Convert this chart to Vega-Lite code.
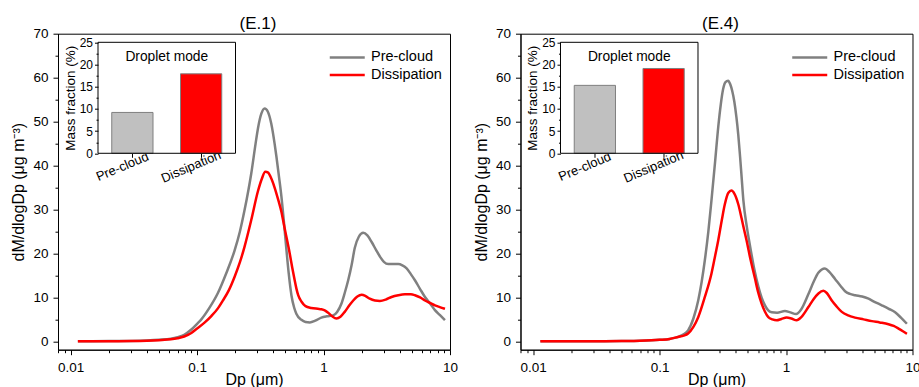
{
  "$schema": "https://vega.github.io/schema/vega-lite/v6.json",
  "padding": {"left": 10, "top": 13.7, "right": 0, "bottom": 0},
  "background": "white",
  "config": {
    "font": "Liberation Sans",
    "view": {"stroke": "#000", "strokeWidth": 1},
    "axis": {
      "grid": false,
      "domainColor": "#000",
      "tickColor": "#000",
      "labelColor": "#000",
      "titleColor": "#000",
      "titleFontWeight": "normal",
      "labelFont": "Liberation Sans",
      "titleFont": "Liberation Sans"
    },
    "title": {"fontWeight": "normal", "color": "#000", "font": "Liberation Sans"}
  },
  "datasets": {
    "e1": [
      {"Dp": 0.0114, "dM": 0, "series": "Pre-cloud"},
      {"Dp": 0.02, "dM": 0.05, "series": "Pre-cloud"},
      {"Dp": 0.03, "dM": 0.1, "series": "Pre-cloud"},
      {"Dp": 0.04, "dM": 0.2, "series": "Pre-cloud"},
      {"Dp": 0.05, "dM": 0.35, "series": "Pre-cloud"},
      {"Dp": 0.062, "dM": 0.6, "series": "Pre-cloud"},
      {"Dp": 0.07, "dM": 0.95, "series": "Pre-cloud"},
      {"Dp": 0.079, "dM": 1.5, "series": "Pre-cloud"},
      {"Dp": 0.09, "dM": 2.7, "series": "Pre-cloud"},
      {"Dp": 0.1, "dM": 4.0, "series": "Pre-cloud"},
      {"Dp": 0.108, "dM": 5.0, "series": "Pre-cloud"},
      {"Dp": 0.125, "dM": 7.6, "series": "Pre-cloud"},
      {"Dp": 0.146, "dM": 11, "series": "Pre-cloud"},
      {"Dp": 0.17, "dM": 15.5, "series": "Pre-cloud"},
      {"Dp": 0.198, "dM": 20.7, "series": "Pre-cloud"},
      {"Dp": 0.218, "dM": 25, "series": "Pre-cloud"},
      {"Dp": 0.237, "dM": 29.8, "series": "Pre-cloud"},
      {"Dp": 0.268, "dM": 38.2, "series": "Pre-cloud"},
      {"Dp": 0.29, "dM": 45, "series": "Pre-cloud"},
      {"Dp": 0.303, "dM": 48.5, "series": "Pre-cloud"},
      {"Dp": 0.322, "dM": 51.8, "series": "Pre-cloud"},
      {"Dp": 0.342, "dM": 53, "series": "Pre-cloud"},
      {"Dp": 0.362, "dM": 52.3, "series": "Pre-cloud"},
      {"Dp": 0.386, "dM": 49.5, "series": "Pre-cloud"},
      {"Dp": 0.41, "dM": 45, "series": "Pre-cloud"},
      {"Dp": 0.424, "dM": 42, "series": "Pre-cloud"},
      {"Dp": 0.444, "dM": 37.5, "series": "Pre-cloud"},
      {"Dp": 0.464, "dM": 33, "series": "Pre-cloud"},
      {"Dp": 0.49, "dM": 26, "series": "Pre-cloud"},
      {"Dp": 0.508, "dM": 21, "series": "Pre-cloud"},
      {"Dp": 0.53, "dM": 15.5, "series": "Pre-cloud"},
      {"Dp": 0.557, "dM": 10.5, "series": "Pre-cloud"},
      {"Dp": 0.585, "dM": 7.7, "series": "Pre-cloud"},
      {"Dp": 0.609, "dM": 6.3, "series": "Pre-cloud"},
      {"Dp": 0.668, "dM": 4.9, "series": "Pre-cloud"},
      {"Dp": 0.72, "dM": 4.4, "series": "Pre-cloud"},
      {"Dp": 0.78, "dM": 4.3, "series": "Pre-cloud"},
      {"Dp": 0.86, "dM": 4.7, "series": "Pre-cloud"},
      {"Dp": 0.96, "dM": 5.4, "series": "Pre-cloud"},
      {"Dp": 1.06, "dM": 5.7, "series": "Pre-cloud"},
      {"Dp": 1.19, "dM": 5.9, "series": "Pre-cloud"},
      {"Dp": 1.28, "dM": 6.7, "series": "Pre-cloud"},
      {"Dp": 1.386, "dM": 8.6, "series": "Pre-cloud"},
      {"Dp": 1.47, "dM": 11, "series": "Pre-cloud"},
      {"Dp": 1.566, "dM": 13.9, "series": "Pre-cloud"},
      {"Dp": 1.67, "dM": 17.5, "series": "Pre-cloud"},
      {"Dp": 1.767, "dM": 21.3, "series": "Pre-cloud"},
      {"Dp": 1.9, "dM": 23.8, "series": "Pre-cloud"},
      {"Dp": 2.06, "dM": 24.7, "series": "Pre-cloud"},
      {"Dp": 2.22, "dM": 24.1, "series": "Pre-cloud"},
      {"Dp": 2.4, "dM": 22.6, "series": "Pre-cloud"},
      {"Dp": 2.6, "dM": 20.8, "series": "Pre-cloud"},
      {"Dp": 2.79, "dM": 19.3, "series": "Pre-cloud"},
      {"Dp": 3.0, "dM": 18.1, "series": "Pre-cloud"},
      {"Dp": 3.25, "dM": 17.6, "series": "Pre-cloud"},
      {"Dp": 3.6, "dM": 17.6, "series": "Pre-cloud"},
      {"Dp": 3.9, "dM": 17.6, "series": "Pre-cloud"},
      {"Dp": 4.2, "dM": 17.3, "series": "Pre-cloud"},
      {"Dp": 4.54, "dM": 16.6, "series": "Pre-cloud"},
      {"Dp": 4.9, "dM": 15.3, "series": "Pre-cloud"},
      {"Dp": 5.28, "dM": 13.9, "series": "Pre-cloud"},
      {"Dp": 5.8, "dM": 11.9, "series": "Pre-cloud"},
      {"Dp": 6.34, "dM": 10.1, "series": "Pre-cloud"},
      {"Dp": 7.0, "dM": 8.5, "series": "Pre-cloud"},
      {"Dp": 7.6, "dM": 7.1, "series": "Pre-cloud"},
      {"Dp": 8.3, "dM": 6.0, "series": "Pre-cloud"},
      {"Dp": 9.12, "dM": 4.8, "series": "Pre-cloud"},
      {"Dp": 0.0114, "dM": 0, "series": "Dissipation"},
      {"Dp": 0.02, "dM": 0.03, "series": "Dissipation"},
      {"Dp": 0.03, "dM": 0.07, "series": "Dissipation"},
      {"Dp": 0.04, "dM": 0.15, "series": "Dissipation"},
      {"Dp": 0.05, "dM": 0.27, "series": "Dissipation"},
      {"Dp": 0.062, "dM": 0.45, "series": "Dissipation"},
      {"Dp": 0.07, "dM": 0.7, "series": "Dissipation"},
      {"Dp": 0.079, "dM": 1.1, "series": "Dissipation"},
      {"Dp": 0.09, "dM": 1.9, "series": "Dissipation"},
      {"Dp": 0.1, "dM": 2.9, "series": "Dissipation"},
      {"Dp": 0.115, "dM": 4.3, "series": "Dissipation"},
      {"Dp": 0.13, "dM": 5.8, "series": "Dissipation"},
      {"Dp": 0.146, "dM": 7.5, "series": "Dissipation"},
      {"Dp": 0.16, "dM": 9.3, "series": "Dissipation"},
      {"Dp": 0.178, "dM": 11.6, "series": "Dissipation"},
      {"Dp": 0.198, "dM": 14.7, "series": "Dissipation"},
      {"Dp": 0.218, "dM": 18, "series": "Dissipation"},
      {"Dp": 0.237, "dM": 21.5, "series": "Dissipation"},
      {"Dp": 0.268, "dM": 27.6, "series": "Dissipation"},
      {"Dp": 0.303, "dM": 34.2, "series": "Dissipation"},
      {"Dp": 0.325, "dM": 37, "series": "Dissipation"},
      {"Dp": 0.346, "dM": 38.6, "series": "Dissipation"},
      {"Dp": 0.365, "dM": 38.4, "series": "Dissipation"},
      {"Dp": 0.38, "dM": 37.5, "series": "Dissipation"},
      {"Dp": 0.41, "dM": 35, "series": "Dissipation"},
      {"Dp": 0.44, "dM": 32, "series": "Dissipation"},
      {"Dp": 0.464, "dM": 29.5, "series": "Dissipation"},
      {"Dp": 0.49, "dM": 26, "series": "Dissipation"},
      {"Dp": 0.515, "dM": 23, "series": "Dissipation"},
      {"Dp": 0.54, "dM": 20, "series": "Dissipation"},
      {"Dp": 0.565, "dM": 16.8, "series": "Dissipation"},
      {"Dp": 0.59, "dM": 14, "series": "Dissipation"},
      {"Dp": 0.61, "dM": 12, "series": "Dissipation"},
      {"Dp": 0.63, "dM": 10.5, "series": "Dissipation"},
      {"Dp": 0.67, "dM": 9.0, "series": "Dissipation"},
      {"Dp": 0.72, "dM": 8.0, "series": "Dissipation"},
      {"Dp": 0.8, "dM": 7.6, "series": "Dissipation"},
      {"Dp": 0.9, "dM": 7.4, "series": "Dissipation"},
      {"Dp": 0.962, "dM": 7.3, "series": "Dissipation"},
      {"Dp": 1.03, "dM": 7.0, "series": "Dissipation"},
      {"Dp": 1.088, "dM": 6.5, "series": "Dissipation"},
      {"Dp": 1.17, "dM": 5.7, "series": "Dissipation"},
      {"Dp": 1.265, "dM": 5.2, "series": "Dissipation"},
      {"Dp": 1.36, "dM": 5.6, "series": "Dissipation"},
      {"Dp": 1.47, "dM": 6.7, "series": "Dissipation"},
      {"Dp": 1.6, "dM": 8.2, "series": "Dissipation"},
      {"Dp": 1.717, "dM": 9.3, "series": "Dissipation"},
      {"Dp": 1.85, "dM": 10.2, "series": "Dissipation"},
      {"Dp": 2.0, "dM": 10.6, "series": "Dissipation"},
      {"Dp": 2.15, "dM": 10.3, "series": "Dissipation"},
      {"Dp": 2.32, "dM": 9.7, "series": "Dissipation"},
      {"Dp": 2.55, "dM": 9.3, "series": "Dissipation"},
      {"Dp": 2.79, "dM": 9.2, "series": "Dissipation"},
      {"Dp": 3.1, "dM": 9.5, "series": "Dissipation"},
      {"Dp": 3.45, "dM": 10.1, "series": "Dissipation"},
      {"Dp": 3.9, "dM": 10.5, "series": "Dissipation"},
      {"Dp": 4.4, "dM": 10.7, "series": "Dissipation"},
      {"Dp": 4.9, "dM": 10.7, "series": "Dissipation"},
      {"Dp": 5.28, "dM": 10.5, "series": "Dissipation"},
      {"Dp": 5.8, "dM": 10.0, "series": "Dissipation"},
      {"Dp": 6.34, "dM": 9.3, "series": "Dissipation"},
      {"Dp": 7.0, "dM": 8.7, "series": "Dissipation"},
      {"Dp": 7.6, "dM": 8.2, "series": "Dissipation"},
      {"Dp": 8.3, "dM": 7.8, "series": "Dissipation"},
      {"Dp": 9.12, "dM": 7.4, "series": "Dissipation"}
    ],
    "e4": [
      {"Dp": 0.0114, "dM": 0, "series": "Pre-cloud"},
      {"Dp": 0.03, "dM": 0.03, "series": "Pre-cloud"},
      {"Dp": 0.05, "dM": 0.08, "series": "Pre-cloud"},
      {"Dp": 0.07, "dM": 0.15, "series": "Pre-cloud"},
      {"Dp": 0.1, "dM": 0.35, "series": "Pre-cloud"},
      {"Dp": 0.12, "dM": 0.55, "series": "Pre-cloud"},
      {"Dp": 0.14, "dM": 1.0, "series": "Pre-cloud"},
      {"Dp": 0.155, "dM": 1.6, "series": "Pre-cloud"},
      {"Dp": 0.168, "dM": 2.5, "series": "Pre-cloud"},
      {"Dp": 0.185, "dM": 5.2, "series": "Pre-cloud"},
      {"Dp": 0.202, "dM": 9.3, "series": "Pre-cloud"},
      {"Dp": 0.215, "dM": 13.5, "series": "Pre-cloud"},
      {"Dp": 0.228, "dM": 18.5, "series": "Pre-cloud"},
      {"Dp": 0.243, "dM": 25, "series": "Pre-cloud"},
      {"Dp": 0.257, "dM": 32, "series": "Pre-cloud"},
      {"Dp": 0.275, "dM": 41, "series": "Pre-cloud"},
      {"Dp": 0.291, "dM": 48.8, "series": "Pre-cloud"},
      {"Dp": 0.305, "dM": 54, "series": "Pre-cloud"},
      {"Dp": 0.318, "dM": 57.4, "series": "Pre-cloud"},
      {"Dp": 0.332, "dM": 59, "series": "Pre-cloud"},
      {"Dp": 0.348, "dM": 59.3, "series": "Pre-cloud"},
      {"Dp": 0.362, "dM": 58.5, "series": "Pre-cloud"},
      {"Dp": 0.375, "dM": 57, "series": "Pre-cloud"},
      {"Dp": 0.39, "dM": 54.5, "series": "Pre-cloud"},
      {"Dp": 0.405, "dM": 51, "series": "Pre-cloud"},
      {"Dp": 0.419, "dM": 47, "series": "Pre-cloud"},
      {"Dp": 0.433, "dM": 42, "series": "Pre-cloud"},
      {"Dp": 0.445, "dM": 37.5, "series": "Pre-cloud"},
      {"Dp": 0.46, "dM": 32, "series": "Pre-cloud"},
      {"Dp": 0.49, "dM": 26, "series": "Pre-cloud"},
      {"Dp": 0.517, "dM": 22, "series": "Pre-cloud"},
      {"Dp": 0.56, "dM": 16.5, "series": "Pre-cloud"},
      {"Dp": 0.603, "dM": 12.5, "series": "Pre-cloud"},
      {"Dp": 0.64, "dM": 10, "series": "Pre-cloud"},
      {"Dp": 0.681, "dM": 8.2, "series": "Pre-cloud"},
      {"Dp": 0.72, "dM": 7.1, "series": "Pre-cloud"},
      {"Dp": 0.77, "dM": 6.6, "series": "Pre-cloud"},
      {"Dp": 0.85, "dM": 6.5, "series": "Pre-cloud"},
      {"Dp": 0.98, "dM": 6.9, "series": "Pre-cloud"},
      {"Dp": 1.08, "dM": 6.6, "series": "Pre-cloud"},
      {"Dp": 1.2, "dM": 6.2, "series": "Pre-cloud"},
      {"Dp": 1.32, "dM": 7.3, "series": "Pre-cloud"},
      {"Dp": 1.5, "dM": 10.7, "series": "Pre-cloud"},
      {"Dp": 1.65, "dM": 13.5, "series": "Pre-cloud"},
      {"Dp": 1.8, "dM": 15.6, "series": "Pre-cloud"},
      {"Dp": 2.03, "dM": 16.6, "series": "Pre-cloud"},
      {"Dp": 2.2, "dM": 15.8, "series": "Pre-cloud"},
      {"Dp": 2.44, "dM": 14.2, "series": "Pre-cloud"},
      {"Dp": 2.7, "dM": 12.6, "series": "Pre-cloud"},
      {"Dp": 2.93, "dM": 11.4, "series": "Pre-cloud"},
      {"Dp": 3.2, "dM": 10.8, "series": "Pre-cloud"},
      {"Dp": 3.52, "dM": 10.5, "series": "Pre-cloud"},
      {"Dp": 4.0, "dM": 10.2, "series": "Pre-cloud"},
      {"Dp": 4.49, "dM": 9.7, "series": "Pre-cloud"},
      {"Dp": 5.0, "dM": 9.0, "series": "Pre-cloud"},
      {"Dp": 5.72, "dM": 8.2, "series": "Pre-cloud"},
      {"Dp": 6.5, "dM": 7.4, "series": "Pre-cloud"},
      {"Dp": 7.29, "dM": 6.6, "series": "Pre-cloud"},
      {"Dp": 8.1, "dM": 5.4, "series": "Pre-cloud"},
      {"Dp": 9.03, "dM": 4.0, "series": "Pre-cloud"},
      {"Dp": 0.0114, "dM": 0, "series": "Dissipation"},
      {"Dp": 0.03, "dM": 0.03, "series": "Dissipation"},
      {"Dp": 0.05, "dM": 0.08, "series": "Dissipation"},
      {"Dp": 0.07, "dM": 0.15, "series": "Dissipation"},
      {"Dp": 0.1, "dM": 0.35, "series": "Dissipation"},
      {"Dp": 0.12, "dM": 0.55, "series": "Dissipation"},
      {"Dp": 0.14, "dM": 1.0, "series": "Dissipation"},
      {"Dp": 0.155, "dM": 1.3, "series": "Dissipation"},
      {"Dp": 0.168, "dM": 1.8, "series": "Dissipation"},
      {"Dp": 0.185, "dM": 3.3, "series": "Dissipation"},
      {"Dp": 0.202, "dM": 5.5, "series": "Dissipation"},
      {"Dp": 0.228, "dM": 10.1, "series": "Dissipation"},
      {"Dp": 0.257, "dM": 15.4, "series": "Dissipation"},
      {"Dp": 0.275, "dM": 19.5, "series": "Dissipation"},
      {"Dp": 0.291, "dM": 23, "series": "Dissipation"},
      {"Dp": 0.31, "dM": 27.5, "series": "Dissipation"},
      {"Dp": 0.328, "dM": 31.2, "series": "Dissipation"},
      {"Dp": 0.35, "dM": 33.8, "series": "Dissipation"},
      {"Dp": 0.37, "dM": 34.3, "series": "Dissipation"},
      {"Dp": 0.39, "dM": 33.6, "series": "Dissipation"},
      {"Dp": 0.419, "dM": 31.2, "series": "Dissipation"},
      {"Dp": 0.445, "dM": 28, "series": "Dissipation"},
      {"Dp": 0.465, "dM": 25.5, "series": "Dissipation"},
      {"Dp": 0.487, "dM": 23, "series": "Dissipation"},
      {"Dp": 0.52, "dM": 19, "series": "Dissipation"},
      {"Dp": 0.567, "dM": 14.4, "series": "Dissipation"},
      {"Dp": 0.6, "dM": 11.3, "series": "Dissipation"},
      {"Dp": 0.641, "dM": 8.6, "series": "Dissipation"},
      {"Dp": 0.68, "dM": 6.8, "series": "Dissipation"},
      {"Dp": 0.724, "dM": 5.5, "series": "Dissipation"},
      {"Dp": 0.78, "dM": 5.0, "series": "Dissipation"},
      {"Dp": 0.842, "dM": 4.8, "series": "Dissipation"},
      {"Dp": 0.92, "dM": 5.1, "series": "Dissipation"},
      {"Dp": 1.011, "dM": 5.4, "series": "Dissipation"},
      {"Dp": 1.1, "dM": 5.2, "series": "Dissipation"},
      {"Dp": 1.213, "dM": 4.8, "series": "Dissipation"},
      {"Dp": 1.32, "dM": 5.5, "series": "Dissipation"},
      {"Dp": 1.502, "dM": 7.8, "series": "Dissipation"},
      {"Dp": 1.65, "dM": 9.6, "series": "Dissipation"},
      {"Dp": 1.803, "dM": 10.9, "series": "Dissipation"},
      {"Dp": 1.975, "dM": 11.5, "series": "Dissipation"},
      {"Dp": 2.1, "dM": 11.0, "series": "Dissipation"},
      {"Dp": 2.3, "dM": 9.3, "series": "Dissipation"},
      {"Dp": 2.5, "dM": 8.0, "series": "Dissipation"},
      {"Dp": 2.76, "dM": 6.7, "series": "Dissipation"},
      {"Dp": 3.1, "dM": 5.9, "series": "Dissipation"},
      {"Dp": 3.52, "dM": 5.4, "series": "Dissipation"},
      {"Dp": 4.1, "dM": 5.0, "series": "Dissipation"},
      {"Dp": 4.77, "dM": 4.6, "series": "Dissipation"},
      {"Dp": 5.5, "dM": 4.3, "series": "Dissipation"},
      {"Dp": 6.46, "dM": 3.9, "series": "Dissipation"},
      {"Dp": 7.1, "dM": 3.5, "series": "Dissipation"},
      {"Dp": 7.76, "dM": 2.9, "series": "Dissipation"},
      {"Dp": 8.4, "dM": 2.3, "series": "Dissipation"},
      {"Dp": 9.03, "dM": 1.7, "series": "Dissipation"}
    ],
    "b1": [
      {"period": "Pre-cloud", "fraction": 9.2},
      {"period": "Dissipation", "fraction": 17.9}
    ],
    "b4": [
      {"period": "Pre-cloud", "fraction": 15.3},
      {"period": "Dissipation", "fraction": 19.1}
    ],
    "inset": [
      {"label": "Droplet mode"}
    ]
  },
  "spacing": 13.5,
  "resolve": {
    "scale": {"color": "independent", "fill": "independent"},
    "legend": {"color": "independent"}
  },
  "hconcat": [
    {
      "title": {"text": "(E.1)", "fontSize": 17, "offset": -6, "dx": 4},
      "width": 392,
      "height": 316,
      "resolve": {
        "scale": {"x": "independent", "y": "independent"},
        "axis": {"x": "independent", "y": "independent"}
      },
      "layer": [
        {
          "data": {"name": "e1"},
          "mark": {"type": "line", "strokeWidth": 2.5, "interpolate": "monotone"},
          "encoding": {
            "x": {
              "field": "Dp", "type": "quantitative",
              "scale": {"type": "log", "domain": [0.00794, 10], "nice": false},
              "axis": {"orient": "bottom", "values": [0.01, 0.1, 1, 10], "format": "~g", "labelFlush": false, "labelOverlap": false, "tickSize": 5, "labelPadding": 6, "labelFontSize": 13.5, "title": "Dp (μm)", "titleFontSize": 16, "titlePadding": -3}
            },
            "y": {
              "field": "dM", "type": "quantitative",
              "scale": {"domain": [-1.9, 70], "nice": false, "zero": false},
              "axis": {"orient": "left", "values": [0, 10, 20, 30, 40, 50, 60, 70], "tickSize": 5, "labelPadding": 5, "labelFontSize": 13.5, "title": "dM/dlogDp (μg m⁻³)", "titleFontSize": 16, "titlePadding": 6}
            },
            "color": {
              "field": "series", "type": "nominal",
              "scale": {"domain": ["Pre-cloud", "Dissipation"], "range": ["#808080", "#ff0000"]},
              "legend": {"orient": "none", "legendX": 282, "legendY": 16.5, "title": null, "symbolType": "M-3.5,0H3.5", "symbolSize": 100, "symbolStrokeWidth": 2.5, "labelFontSize": 14.5, "labelOffset": 16.5, "rowPadding": 2.5, "padding": 0, "labelColor": "#000"}
            }
          }
        },
        {
          "data": {"name": "e1"},
          "mark": {"type": "point", "opacity": 0},
          "encoding": {
            "x": {
              "field": "Dp", "type": "quantitative",
              "scale": {"type": "log", "domain": [0.00794, 10], "nice": false},
              "axis": {"orient": "bottom", "values": [0.008, 0.009, 0.02, 0.03, 0.04, 0.05, 0.06, 0.07, 0.08, 0.09, 0.2, 0.3, 0.4, 0.5, 0.6, 0.7, 0.8, 0.9, 2, 3, 4, 5, 6, 7, 8, 9], "labels": false, "domain": false, "tickSize": 3, "title": null}
            },
            "y": {
              "field": "dM", "type": "quantitative",
              "scale": {"domain": [-1.9, 70], "nice": false, "zero": false},
              "axis": {"orient": "left", "values": [5, 15, 25, 35, 45, 55, 65], "labels": false, "domain": false, "tickSize": 3, "title": null}
            }
          }
        },
        {
          "data": {"name": "b1"},
          "mark": {"type": "bar", "stroke": "#808080", "strokeWidth": 1},
          "encoding": {
            "x": {
              "field": "period", "type": "nominal", "sort": null,
              "scale": {"domain": ["Pre-cloud", "Dissipation"], "range": [40, 177.5], "paddingInner": 0.4, "paddingOuter": 0.2},
              "axis": {"orient": "bottom", "offset": -196.4, "title": null, "domain": false, "labelAngle": -23, "labelAlign": "center", "labelBaseline": "middle", "labelOffset": -10, "labelPadding": 9, "tickSize": 4, "labelFontSize": 13}
            },
            "y": {
              "field": "fraction", "type": "quantitative",
              "scale": {"domain": [0, 25], "range": [119.6, 8.6], "nice": false},
              "axis": {"orient": "left", "offset": -40, "values": [0, 5, 10, 15, 20, 25], "domain": false, "tickSize": 3.5, "labelPadding": 2, "labelFontSize": 12, "title": "Mass fraction (%)", "titleFontSize": 13.5, "titlePadding": 2}
            },
            "fill": {
              "field": "period", "type": "nominal",
              "scale": {"domain": ["Pre-cloud", "Dissipation"], "range": ["#c0c0c0", "#ff0000"]},
              "legend": null
            }
          }
        },
        {
          "data": {"name": "inset"},
          "mark": {"type": "rect", "fill": null, "stroke": "#000", "strokeWidth": 1},
          "encoding": {
            "x": {"datum": 0, "type": "quantitative", "scale": {"domain": [0, 1], "range": [40, 177.5]}, "axis": null},
            "x2": {"datum": 1},
            "y": {"datum": 0, "type": "quantitative", "scale": {"domain": [0, 25], "range": [119.6, 8.6], "nice": false},
              "axis": {"orient": "left", "offset": -40, "values": [2.5, 7.5, 12.5, 17.5, 22.5], "labels": false, "domain": false, "tickSize": 2, "title": null}},
            "y2": {"datum": 25}
          }
        },
        {
          "data": {"name": "inset"},
          "mark": {"type": "text", "fontSize": 13.8, "baseline": "middle", "align": "center", "color": "#000"},
          "encoding": {
            "x": {"datum": 0.5, "type": "quantitative", "scale": {"domain": [0, 1], "range": [40, 177.5]}, "axis": null},
            "y": {"datum": 21.6, "type": "quantitative", "scale": {"domain": [0, 25], "range": [119.6, 8.6], "nice": false}, "axis": null},
            "text": {"field": "label"}
          }
        }
      ]
    },
    {
      "title": {"text": "(E.4)", "fontSize": 17, "offset": -6, "dx": 4},
      "width": 392,
      "height": 316,
      "resolve": {
        "scale": {"x": "independent", "y": "independent"},
        "axis": {"x": "independent", "y": "independent"}
      },
      "layer": [
        {
          "data": {"name": "e4"},
          "mark": {"type": "line", "strokeWidth": 2.5, "interpolate": "monotone"},
          "encoding": {
            "x": {
              "field": "Dp", "type": "quantitative",
              "scale": {"type": "log", "domain": [0.00794, 10], "nice": false},
              "axis": {"orient": "bottom", "values": [0.01, 0.1, 1, 10], "format": "~g", "labelFlush": false, "labelOverlap": false, "tickSize": 5, "labelPadding": 6, "labelFontSize": 13.5, "title": "Dp (μm)", "titleFontSize": 16, "titlePadding": -3}
            },
            "y": {
              "field": "dM", "type": "quantitative",
              "scale": {"domain": [-1.9, 70], "nice": false, "zero": false},
              "axis": {"orient": "left", "values": [0, 10, 20, 30, 40, 50, 60, 70], "tickSize": 5, "labelPadding": 5, "labelFontSize": 13.5, "title": "dM/dlogDp (μg m⁻³)", "titleFontSize": 16, "titlePadding": 6}
            },
            "color": {
              "field": "series", "type": "nominal",
              "scale": {"domain": ["Pre-cloud", "Dissipation"], "range": ["#808080", "#ff0000"]},
              "legend": {"orient": "none", "legendX": 282, "legendY": 16.5, "title": null, "symbolType": "M-3.5,0H3.5", "symbolSize": 100, "symbolStrokeWidth": 2.5, "labelFontSize": 14.5, "labelOffset": 16.5, "rowPadding": 2.5, "padding": 0, "labelColor": "#000"}
            }
          }
        },
        {
          "data": {"name": "e4"},
          "mark": {"type": "point", "opacity": 0},
          "encoding": {
            "x": {
              "field": "Dp", "type": "quantitative",
              "scale": {"type": "log", "domain": [0.00794, 10], "nice": false},
              "axis": {"orient": "bottom", "values": [0.008, 0.009, 0.02, 0.03, 0.04, 0.05, 0.06, 0.07, 0.08, 0.09, 0.2, 0.3, 0.4, 0.5, 0.6, 0.7, 0.8, 0.9, 2, 3, 4, 5, 6, 7, 8, 9], "labels": false, "domain": false, "tickSize": 3, "title": null}
            },
            "y": {
              "field": "dM", "type": "quantitative",
              "scale": {"domain": [-1.9, 70], "nice": false, "zero": false},
              "axis": {"orient": "left", "values": [5, 15, 25, 35, 45, 55, 65], "labels": false, "domain": false, "tickSize": 3, "title": null}
            }
          }
        },
        {
          "data": {"name": "b4"},
          "mark": {"type": "bar", "stroke": "#808080", "strokeWidth": 1},
          "encoding": {
            "x": {
              "field": "period", "type": "nominal", "sort": null,
              "scale": {"domain": ["Pre-cloud", "Dissipation"], "range": [40, 177.5], "paddingInner": 0.4, "paddingOuter": 0.2},
              "axis": {"orient": "bottom", "offset": -196.4, "title": null, "domain": false, "labelAngle": -23, "labelAlign": "center", "labelBaseline": "middle", "labelOffset": -10, "labelPadding": 9, "tickSize": 4, "labelFontSize": 13}
            },
            "y": {
              "field": "fraction", "type": "quantitative",
              "scale": {"domain": [0, 25], "range": [119.6, 8.6], "nice": false},
              "axis": {"orient": "left", "offset": -40, "values": [0, 5, 10, 15, 20, 25], "domain": false, "tickSize": 3.5, "labelPadding": 2, "labelFontSize": 12, "title": "Mass fraction (%)", "titleFontSize": 13.5, "titlePadding": 2}
            },
            "fill": {
              "field": "period", "type": "nominal",
              "scale": {"domain": ["Pre-cloud", "Dissipation"], "range": ["#c0c0c0", "#ff0000"]},
              "legend": null
            }
          }
        },
        {
          "data": {"name": "inset"},
          "mark": {"type": "rect", "fill": null, "stroke": "#000", "strokeWidth": 1},
          "encoding": {
            "x": {"datum": 0, "type": "quantitative", "scale": {"domain": [0, 1], "range": [40, 177.5]}, "axis": null},
            "x2": {"datum": 1},
            "y": {"datum": 0, "type": "quantitative", "scale": {"domain": [0, 25], "range": [119.6, 8.6], "nice": false},
              "axis": {"orient": "left", "offset": -40, "values": [2.5, 7.5, 12.5, 17.5, 22.5], "labels": false, "domain": false, "tickSize": 2, "title": null}},
            "y2": {"datum": 25}
          }
        },
        {
          "data": {"name": "inset"},
          "mark": {"type": "text", "fontSize": 13.8, "baseline": "middle", "align": "center", "color": "#000"},
          "encoding": {
            "x": {"datum": 0.5, "type": "quantitative", "scale": {"domain": [0, 1], "range": [40, 177.5]}, "axis": null},
            "y": {"datum": 21.6, "type": "quantitative", "scale": {"domain": [0, 25], "range": [119.6, 8.6], "nice": false}, "axis": null},
            "text": {"field": "label"}
          }
        }
      ]
    }
  ]
}
